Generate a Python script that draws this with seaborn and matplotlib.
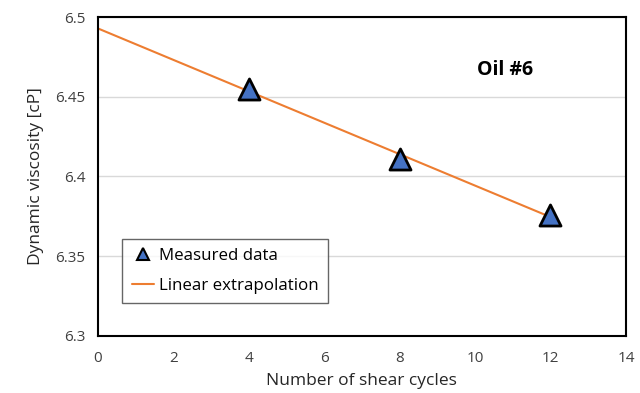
import numpy as np
import pandas as pd
import matplotlib
matplotlib.use("Agg")
import matplotlib.pyplot as plt
import seaborn as sns
from matplotlib.lines import Line2D

# Measured viscosity after repeated shear cycles
cycles = [4, 8, 12]
viscosity = [6.455, 6.411, 6.376]
sample_label = "Oil #6"

x_ticks = [0, 2, 4, 6, 8, 10, 12, 14]
y_ticks = [6.3, 6.35, 6.4, 6.45, 6.5]

sns.set_theme(style="white")
plt.rcParams["font.family"] = ["Open Sans", "DejaVu Sans"]

fig = plt.figure(figsize=(6.4, 3.93), dpi=100)
ax = fig.add_axes([0.153, 0.146, 0.825, 0.81])

df = pd.DataFrame({"cycles": cycles, "viscosity": viscosity})

# Least-squares line extrapolated back to zero cycles
slope, intercept = np.polyfit(cycles, viscosity, 1)
fit_x = np.array([0, max(cycles)])
fit_df = pd.DataFrame({"cycles": fit_x, "viscosity": intercept + slope * fit_x})

orange = "#ED7D31"
blue = "#4472C4"

sns.lineplot(data=fit_df, x="cycles", y="viscosity", ax=ax, color=orange,
             linewidth=1.5, zorder=2)
sns.scatterplot(data=df, x="cycles", y="viscosity", ax=ax, marker="^", s=230,
                color=blue, edgecolor="black", linewidth=2, zorder=3)

ax.set_xlim(0, 14)
ax.set_ylim(6.3, 6.5)
ax.set_xticks(x_ticks)
ax.set_yticks(y_ticks)
ax.set_xticklabels([str(v) for v in x_ticks])
ax.set_yticklabels([f"{v:g}" for v in y_ticks])

ax.grid(axis="y", color="#d9d9d9", linewidth=1)
ax.set_axisbelow(True)
for s in ax.spines.values():
    s.set_color("black")
    s.set_linewidth(1.5)

ax.tick_params(axis="x", direction="in", length=5, width=1, color="#444444",
               labelsize=11, labelcolor="#404040", pad=11)
ax.tick_params(axis="y", length=0, labelsize=11, labelcolor="#404040", pad=9)

ax.set_xlabel("Number of shear cycles", fontsize=12.5, color="#262626", labelpad=5)
ax.set_ylabel("Dynamic viscosity [cP]", fontsize=12.5, color="#262626", labelpad=8)

ax.text(10.8, 6.467, sample_label, fontsize=14, fontweight="bold",
        ha="center", va="center", color="black")

handles = [
    Line2D([], [], marker="^", linestyle="none", markersize=8,
           markerfacecolor=blue, markeredgecolor="black", markeredgewidth=1.5),
    Line2D([], [], color=orange, linewidth=1.5),
]
leg = ax.legend(handles, ["Measured data", "Linear extrapolation"],
                loc="lower left", bbox_to_anchor=(0.03, 0.075), fontsize=12.2,
                frameon=True, fancybox=False, handlelength=1.3,
                handletextpad=0.3, borderpad=0.55, labelspacing=0.8)
leg.get_frame().set_edgecolor("#404040")
leg.get_frame().set_linewidth(1)
for t in leg.get_texts():
    t.set_color("black")

fig.savefig("out.png", dpi=100)
